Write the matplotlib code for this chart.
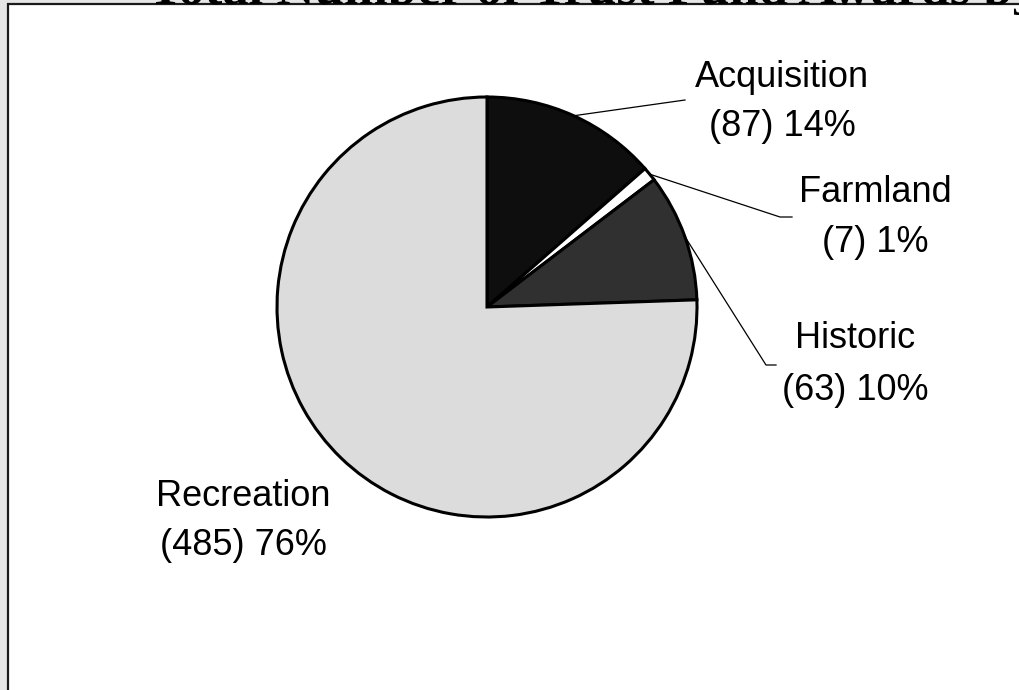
import matplotlib
matplotlib.use("Agg")
import matplotlib.pyplot as plt
from matplotlib.patches import Rectangle
import numpy as np

# ---- data ----
categories = ["Acquisition", "Farmland", "Historic", "Recreation"]
counts = [87, 7, 63, 485]
percent_labels = ["14%", "1%", "10%", "76%"]
colors = ["#0e0e0e", "#ffffff", "#303030", "#dcdcdc"]
title = "Total Number of Trust Fund Awards by Category"

W, H = 1019, 690
fig = plt.figure(figsize=(W / 100, H / 100), dpi=100, facecolor="#e6e6e6")

def fx(px):
    return px / W

def fy(py):
    return 1 - py / H

# white framed panel (behind everything)
panel = Rectangle((fx(8), fy(H + 10)), 1.2, (H + 6) / H,
                  transform=fig.transFigure, facecolor="white",
                  edgecolor="#1a1a1a", linewidth=1.6, zorder=-10)
fig.patches.append(panel)

# title (mostly cropped at the top, as in the reference)
tprops = dict(family=["Liberation Serif", "DejaVu Serif"], fontweight="bold", fontsize=38)
ttl = fig.text(fx(148), fy(4), title, ha="left", va="baseline", color="black",
               zorder=5, **tprops)

# pie axes: centre (487, 307) px, radius 210 px
cx, cy, R = 487, 307, 210
ax = fig.add_axes([fx(cx - R), fy(cy + R), 2 * R / W, 2 * R / H])
ax.set_zorder(1)
ax.patch.set_visible(False)
wedges, _ = ax.pie(counts, colors=colors, startangle=90, counterclock=False,
                   radius=1.0, wedgeprops=dict(edgecolor="black", linewidth=2.2))
ax.set_xlim(-1, 1)
ax.set_ylim(-1, 1)
ax.set_aspect("auto")
ax.axis("off")

def d(px, py):
    return ((px - cx) / R, (cy - py) / R)

font = dict(family=["Liberation Sans", "DejaVu Sans"], fontsize=26, color="black")

# label anchor positions (pixels): (center x, baseline line1, baseline line2)
label_pos = [(782, 87, 136), (875, 202, 252), (855, 348, 400), (243, 506, 555)]
# leader line end points (pixels), None for no leader
leader_ends = [[(685, 100)], [(780, 217), (792, 217)], [(766, 365), (776, 365)], None]

total = sum(counts)
cum = 0
for i, (cat, n, pct) in enumerate(zip(categories, counts, percent_labels)):
    mid = 90 - (cum + n / 2) / total * 360
    cum += n
    x0, y0, y1 = label_pos[i]
    tx, ty = d(x0, y0)
    ax.text(tx, ty, cat, ha="center", va="baseline", clip_on=False, **font)
    tx, ty = d(x0, y1)
    ax.text(tx, ty, f"({n}) {pct}", ha="center", va="baseline", clip_on=False, **font)
    if leader_ends[i] is not None:
        a = np.deg2rad(mid)
        xs = [np.cos(a)] + [d(*p)[0] for p in leader_ends[i]]
        ys = [np.sin(a)] + [d(*p)[1] for p in leader_ends[i]]
        ax.plot(xs, ys, color="black", linewidth=0.9, clip_on=False)

# place the title so that only its foot shows just above the panel edge
fig.canvas.draw()
renderer = fig.canvas.get_renderer()
bb = ttl.get_window_extent(renderer)
_, _, desc = renderer.get_text_width_height_descent(title, ttl.get_fontproperties(), ismath=False)
baseline_px = bb.y0 + desc
target = H - 4
ttl.set_y(ttl.get_position()[1] + (target - baseline_px) / H)

fig.savefig("out.png", dpi=100, facecolor=fig.get_facecolor())
